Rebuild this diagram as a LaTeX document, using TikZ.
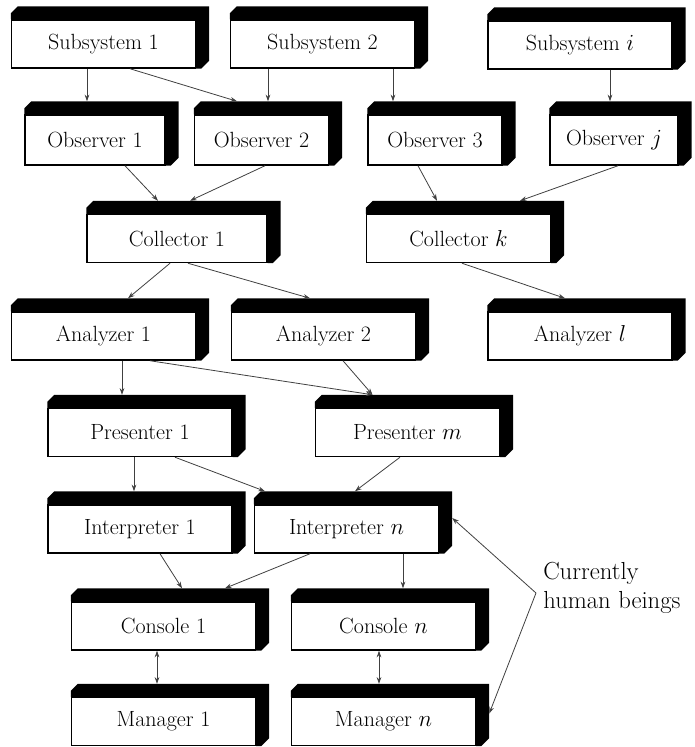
\documentclass[tikz,border=0pt]{standalone}
\usetikzlibrary{arrows.meta,calc}

\tikzset{
  box/.style={draw, line width=1.1pt, fill=white, minimum width=184*0.75pt, minimum height=48*0.75pt, inner sep=0pt, font=\fontsize{16.5}{19}\selectfont},
  obsbox/.style={box, minimum width=134*0.75pt, minimum height=50*0.75pt},
  conn/.style={draw=black!75, line width=0.6pt, -{Stealth[length=5pt,width=3.5pt]}},
  bothconn/.style={conn, {Stealth[length=5pt,width=3.5pt]}-{Stealth[length=5pt,width=3.5pt]}}
}

\begin{document}
\begin{tikzpicture}[x=0.75pt,y=0.75pt,yscale=-1,xscale=1]
\useasboundingbox (0,0) rectangle (695,747);

%Boxes
\node[box] (sub1) at (103.5,44) {Subsystem 1};
\node[box] (sub2) at (322.5,44) {Subsystem 2};
\node[box] (subi) at (580,45) {Subsystem $i$};

\node[obsbox, minimum width=140*0.75pt] (obs1) at (95,140) {Observer 1};
\node[obsbox] (obs2) at (261.5,140) {Observer 2};
\node[obsbox] (obs3) at (435,140) {Observer 3};
\node[obsbox, minimum width=128*0.75pt] (obsj) at (614,140) {Observer $j$};

\node[box, minimum width=180*0.75pt] (col1) at (177,238.5) {Collector 1};
\node[box] (colk) at (458.5,238.5) {Collector $k$};

\node[box] (ana1) at (103.5,336) {Analyzer 1};
\node[box] (ana2) at (323.5,336) {Analyzer 2};
\node[box] (anal) at (580,336) {Analyzer $l$};

\node[box] (pre1) at (140,432.5) {Presenter 1};
\node[box] (prem) at (407.5,432.5) {Presenter $m$};

\node[box] (int1) at (140,529) {Interpreter 1};
\node[box] (intn) at (346.5,529) {Interpreter $n$};

\node[box] (con1) at (163.5,626) {Console 1};
\node[box] (conn) at (383.5,626) {Console $n$};

\node[box] (man1) at (163.5,721.5) {Manager 1};
\node[box] (mann) at (383.5,721.5) {Manager $n$};

%Black sides
\foreach \n in {sub1,sub2,subi,obs1,obs2,obs3,obsj,col1,colk,ana1,ana2,anal,pre1,prem,int1,intn,con1,conn,man1,mann}{
  \fill ($(\n.north west)+(0,-6)$) -- ++(7,-7) -| ($(\n.south east)+(13,-8)$) -- ($(\n.south east)+(5,0)$) -- (\n.south east) -- (\n.north east) -- (\n.north west) -- cycle;
}

%Connectors
\draw[conn] ($(sub1.south)+(-16.5,0)$) -- ($(obs1.north)+(-8,-13)$);
\draw[conn] ($(sub1.south)+(26.5,0)$) -- ($(obs2.north)+(-24.5,-13)$);
\draw[conn] ($(sub2.south)+(-54.5,0)$) -- ($(obs2.north)+(6.5,-13)$);
\draw[conn] ($(sub2.south)+(70.5,0)$) -- ($(obs3.north)+(-42,-13)$);
\draw[conn] ($(subi.south)+(30,0)$) -- ($(obsj.north)+(-4,-13)$);

\draw[conn] ($(obs1.south)+(30,0)$) -- ($(col1.north)+(-19,-13)$);
\draw[conn] ($(obs2.south)+(3.5,0)$) -- ($(col1.north)+(13,-13)$);
\draw[conn] ($(obs3.south)+(-17,0)$) -- ($(colk.north)+(-21.5,-13)$);
\draw[conn] ($(obsj.south)+(4,0)$) -- ($(colk.north)+(61.5,-13)$);

\draw[conn] ($(col1.south)+(-7,0)$) -- ($(ana1.north)+(24.5,-13)$);
\draw[conn] ($(col1.south)+(11,0)$) -- ($(ana2.north)+(-13.5,-13)$);
\draw[conn] ($(colk.south)+(3.5,0)$) -- ($(anal.north)+(-15,-13)$);

\draw[conn] ($(ana1.south)+(18.5,0)$) -- ($(pre1.north)+(-18,-13)$);
\draw[conn] ($(ana1.south)+(46.5,0)$) -- ($(prem.north)+(-35,-13)$);
\draw[conn] ($(ana2.south)+(19.5,0)$) -- ($(prem.north)+(-35,-13)$);

\draw[conn] ($(pre1.south)+(-6,0)$) -- ($(int1.north)+(-6,-13)$);
\draw[conn] ($(pre1.south)+(35,0)$) -- ($(intn.north)+(-81.5,-13)$);
\draw[conn] ($(prem.south)+(-7.5,0)$) -- ($(intn.north)+(8.5,-13)$);

\draw[conn] ($(int1.south)+(20,0)$) -- ($(con1.north)+(18.5,-13)$);
\draw[conn] ($(intn.south)+(-36.5,0)$) -- ($(con1.north)+(61.5,-13)$);
\draw[conn] ($(intn.south)+(56.5,0)$) -- ($(conn.north)+(19.5,-13)$);

\draw[bothconn] ($(con1.south)+(-6.5,0)$) -- ($(man1.north)+(-6.5,-13)$);
\draw[bothconn] ($(conn.south)+(-4.5,0)$) -- ($(mann.north)+(-4.5,-13)$);

%Human beings
\node[anchor=west, align=left, inner sep=0pt, font=\fontsize{18.5}{22}\selectfont] (human) at (543,588) {Currently\\human beings};
\coordinate (tip) at ($(human.west)+(-7,5)$);
\draw[conn] (tip) -- ($(intn.east)+(13,-11)$);
\draw[conn] (tip) -- ($(mann.east)+(13,-8)$);

\end{tikzpicture}
\end{document}
